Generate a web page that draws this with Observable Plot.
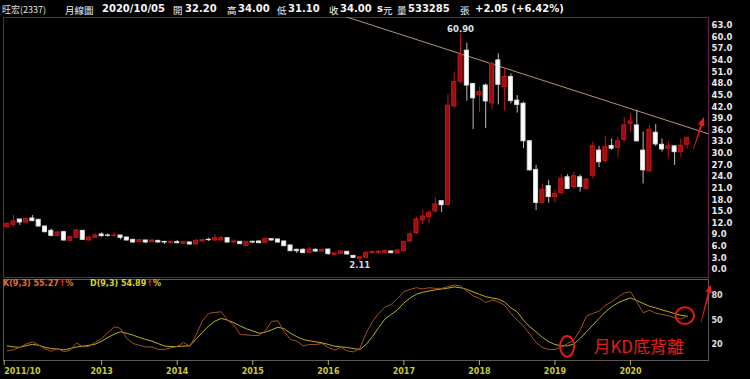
<!DOCTYPE html>
<html>
<head>
<meta charset="utf-8">
<script src="https://cdn.jsdelivr.net/npm/d3@7"></script>
<script src="https://cdn.jsdelivr.net/npm/@observablehq/plot@0.6"></script>
<style>
  html,body{margin:0;padding:0;background:#000;}
  #wrap{position:relative;width:750px;height:379px;background:#000;overflow:hidden;}
  #wrap > svg{position:absolute;left:0;}
  .hd{position:absolute;top:3px;line-height:12px;white-space:nowrap;color:#f4f4f4;}
  .num{font:bold 10px "DejaVu Sans",sans-serif;}
  .cjk{font:400 9.5px "Noto Sans CJK TC",sans-serif;}
  .cjk0{font:400 9px "Noto Sans CJK TC",sans-serif;color:#e6e6e6;}
  .lg{position:absolute;top:279px;font:bold 8px "DejaVu Sans",sans-serif;line-height:10px;white-space:nowrap;}
</style>
</head>
<body>
<div id="wrap"></div>
<script>
// ---------------- data ----------------
const headerParts = ["旺宏(2337)","月線圖","2020/10/05","開","32.20","高","34.00","低","31.10","收","34.00","s","元","量","533285","張","+2.05 (+6.42%)"];

// monthly candles, 2011/10 … 2020/10 (index 0 … 108)
const open = [
  10.93,11.53,12.91,12.14,13.17,12.82,11.10,9.98,8.69,9.64,
  7.40,8.18,9.98,7.49,8.18,9.04,8.78,8.61,8.78,8.26,
  7.66,7.06,7.49,7.06,7.40,7.14,6.80,7.06,6.63,6.97,
  6.46,7.23,7.66,7.49,7.49,8.09,6.97,7.14,6.11,7.14,
  7.23,6.89,7.83,7.75,7.23,6.20,5.08,5.08,4.30,5.08,
  4.65,5.16,3.79,4.05,4.56,3.53,2.75,3.01,4.30,4.30,
  4.30,4.65,4.13,4.73,7.23,9.38,12.74,13.51,14.98,17.64,
  16.7,42.1,48.5,56.5,47.9,45.0,47.5,42.9,54.0,47.1,
  49.7,43.6,42.8,33.1,25.7,17.2,21.5,18.7,19.7,23.8,
  21.3,23.8,20.8,24.2,30.7,28.0,31.9,31.4,33.5,37.6,
  37.2,30.7,25.4,35.3,32.2,31.2,31.8,30.3,32.2];
const close = [
  11.79,12.39,12.14,13.08,12.48,11.10,9.64,8.69,9.55,7.49,
  8.35,10.07,7.66,8.26,8.78,8.61,8.69,8.78,8.18,7.49,
  6.97,7.57,6.97,7.49,6.97,6.97,7.06,6.80,7.06,6.46,
  7.40,7.57,7.57,8.09,8.09,6.97,7.23,6.54,7.14,6.97,
  6.80,7.92,7.49,6.97,6.02,4.73,4.73,4.22,5.16,4.65,
  5.08,3.96,4.13,4.65,3.87,3.01,3.18,4.22,4.56,4.56,
  4.73,4.22,4.91,7.14,9.04,12.91,13.68,14.55,16.78,16.61,
  42.3,48.4,55.3,47.5,44.2,45.8,43.4,53.1,47.7,49.7,
  43.5,42.5,33.1,25.6,17.2,20.6,18.7,19.5,23.4,20.8,
  24.1,21.3,23.2,31.8,27.7,31.6,31.2,33.1,37.2,38.2,
  33.1,25.6,36.1,32.3,31.0,31.8,30.3,31.95,34.0];
const high = [
  12.05,13.94,12.91,13.25,13.94,12.91,11.19,10.41,9.90,9.90,
  8.61,10.24,10.07,8.69,9.21,9.47,9.21,9.47,8.78,8.35,
  7.75,7.75,7.49,7.66,7.49,7.14,7.14,7.49,7.06,7.06,
  7.83,7.66,8.09,8.95,8.52,8.18,7.66,7.23,7.23,7.32,
  7.32,8.09,7.83,7.83,7.32,6.28,5.25,5.34,5.68,5.34,
  5.25,5.16,4.30,4.91,4.65,3.61,3.27,4.65,4.73,4.91,
  5.08,4.73,5.08,7.32,9.73,13.51,15.41,15.23,18.50,17.64,
  45.2,50.9,60.9,58.4,48.0,47.2,47.9,53.5,55.7,51.8,
  50.5,44.9,43.2,33.3,26.9,22.1,23.0,20.6,24.5,24.5,
  25.1,24.4,23.5,32.9,31.8,34.3,33.7,34.2,39.2,40.2,
  41.1,35.5,37.2,37.4,33.7,33.1,31.9,33.7,34.0];
const low = [
  10.67,10.93,11.36,11.62,12.48,10.93,9.47,8.43,8.35,7.32,
  7.14,8.09,7.49,7.32,8.09,8.35,8.35,8.52,7.66,7.40,
  6.80,6.97,6.63,6.89,6.89,6.46,6.63,6.63,6.54,6.28,
  6.37,7.14,7.23,7.32,7.40,6.89,6.63,6.46,6.02,6.63,
  6.80,6.80,7.32,6.80,5.94,4.65,4.13,4.13,4.13,4.39,
  4.56,3.70,3.61,3.87,3.79,2.84,2.11,2.84,4.05,3.87,
  4.13,4.05,4.05,4.65,7.06,9.04,11.62,11.79,14.63,14.72,
  16.3,41.7,47.9,43.5,36.1,40.5,36.4,41.2,42.5,40.9,
  42.8,40.4,31.2,25.4,15.2,17.0,17.1,17.1,19.4,20.6,
  20.8,20.0,20.6,23.4,26.3,27.7,30.7,28.8,32.9,35.5,
  32.9,22.1,25.0,31.8,30.3,28.8,26.9,28.8,31.1];

// KD(9,3)
const kValues = [
  12.7,14,17,21,23.7,20,15,12.3,15.6,11.5,
  13.5,22.5,17.5,18.4,23,27.7,35,42,40,27.7,
  21.6,19.5,17.5,17.5,14.3,14.3,16.4,18,22.9,18.4,
  31.8,49.3,58.2,59.5,60.2,50,44,32.6,32,31.4,
  31.4,37.1,48.5,49.3,35.9,26.5,24.5,18.8,20.4,20.4,
  21.6,16.8,13.5,16.8,12.7,11.5,15.6,34.1,48.3,58.2,
  66,69.3,76.6,84.7,87.5,89.5,88,89.5,88.7,88.7,
  90.8,92.8,91.6,85.5,79.4,76.6,71.7,74.5,72.5,68.4,
  58.2,50.1,43,33,23,16.8,14.3,14.3,17.2,21.5,
  26,38,55,58.2,61,68,72.5,78,83,84.7,
  72.5,59,62.2,58.5,57,55.5,53,51.3,55.27];
const dValues = [
  18.8,17.5,17,19,20.5,19.5,17,15.6,15,13.9,
  15.5,17.5,18.4,19.5,20.9,24.5,29,33,35.9,34,
  31.8,29,26.5,24.5,21.5,18.4,18,18,18.5,18.8,
  27,35,43,49,52.1,50,46.9,43,39.5,37,
  34.1,35.5,38.2,41.5,39.5,34.1,30,26.5,25,23.7,
  22.5,20.5,18.4,17.5,16.8,15.5,14.3,20.4,30,41,
  51.5,57,62.6,71,77,81.6,84,85.5,86.9,88,
  89,90.5,89.5,87.5,84.5,81.5,78.6,77,75.7,72,
  65,60.2,50,42,35.9,29,24,20.4,19,18.8,
  21,28,35.9,44,52.1,60,66.3,71,74.5,77,
  74,70.4,67,65,62.5,60.5,58,56,54.89];

const priceTicks = [0,3,6,9,12,15,18,21,24,27,30,33,36,39,42,45,48,51,54,57,60,63];
const kdTicks = [20,50,80];
const xTickIdx = [0,15,27,39,51,63,75,87,99];
const xTickLabels = ["2011/10","2013","2014","2015","2016","2017","2018","2019","2020"];

// annotations (month index / value)
const trendline = [{n:53, p:65.67},{n:112, p:34.7}];
const arrowTop = [{n:109.05, v:30.9},{n:110.75, v:39.3}];
const arrowBottom = [{n:110.28, v:46.8},{n:111.82, v:92.6}];
const rings = [{n:89, v:17.6},{n:107.7, v:55}];
const noteText = [{text:"月KD底背離", n:93.1, v:17.3}];

// ---------------- layout ----------------
const headerX = [2,65,102,173,185,227,238,277,288,329,340,377,383,397,408,460,475];
const ringSize = [[7,10.3],[9.3,8.3]];

const wrap = document.getElementById("wrap");
headerParts.forEach((t, i) => {
  const s = document.createElement("span");
  s.className = "hd " + (i === 0 ? "cjk0" : (/^[\d.+\-\/ (%)s]+$/.test(t) ? "num" : "cjk"));
  s.style.left = headerX[i] + "px";
  s.textContent = t;
  wrap.appendChild(s);
});

const candles = open.map((o, i) => ({n: i, o, h: high[i], l: low[i], c: close[i]}));
const ups = candles.filter(d => d.c >= d.o);
const downs = candles.filter(d => d.c < d.o);
const peak = candles.reduce((a, b) => (b.h > a.h ? b : a));
const trough = candles.reduce((a, b) => (b.l < a.l ? b : a));
const kd = kValues.map((k, i) => ({n: i, k, d: dValues[i]}));
const half = 0.32;

function wedge(pts, color, headLen, headHalf) {
  return (index, scales) => {
    const x1 = scales.x(pts[0].n), y1 = scales.y(pts[0].v);
    const x2 = scales.x(pts[1].n), y2 = scales.y(pts[1].v);
    const L = Math.hypot(x2 - x1, y2 - y1), ux = (x2 - x1) / L, uy = (y2 - y1) / L;
    const vx = -uy, vy = ux;
    const bx = x2 - ux * headLen, by = y2 - uy * headLen;
    const P = [
      [x1 + vx * 0.3, y1 + vy * 0.3], [bx + vx * 1.0, by + vy * 1.0], [bx + vx * headHalf, by + vy * headHalf],
      [x2, y2],
      [bx - vx * headHalf, by - vy * headHalf], [bx - vx * 1.0, by - vy * 1.0], [x1 - vx * 0.3, y1 - vy * 0.3]
    ];
    const g = d3.create("svg:g");
    g.append("path").attr("d", "M" + P.map(p => p.join(",")).join("L") + "Z").attr("fill", color);
    return g.node();
  };
}

const baseStyle = {background: "transparent", color: "#e6e6e6", fontFamily: "DejaVu Sans", overflow: "visible"};

const topPlot = Plot.plot({
  width: 750, height: 278, marginTop: 17, marginBottom: 1, marginLeft: 3, marginRight: 42,
  style: baseStyle,
  x: {type: "linear", domain: [0, 108], range: [6.7, 686.7], axis: null},
  y: {domain: [0, 63], range: [269, 25], axis: null},
  marks: [
    Plot.frame({stroke: "#6e2048"}),
    Plot.line(trendline, {x: "n", y: "p", stroke: "#b39474", strokeWidth: 1, clip: true}),
    Plot.ruleX(downs, {x: "n", y1: "l", y2: "h", stroke: "#bdbdbd"}),
    Plot.ruleX(ups, {x: "n", y1: "l", y2: "h", stroke: "#bf1414"}),
    Plot.rect(downs, {x1: d => d.n - half, x2: d => d.n + half, y1: "o", y2: "c", fill: "#ffffff", stroke: "#dedede"}),
    Plot.rect(ups, {x1: d => d.n - half, x2: d => d.n + half, y1: "o", y2: "c", fill: "#a00c0c", stroke: "#c41616"}),
    Plot.text([peak], {x: "n", y: "h", text: d => d.h.toFixed(2), dy: -4, fontSize: 8.5, fontWeight: "bold", fill: "#dde3ea"}),
    Plot.text([trough], {x: "n", y: "l", text: d => d.l.toFixed(2), dy: 4, fontSize: 8.5, fontWeight: "bold", fill: "#cfd6e0"}),
    Plot.axisY(priceTicks, {anchor: "right", tickSize: 0, tickPadding: 3, tickFormat: d => d.toFixed(1), fontSize: 8.5, fontWeight: "bold", fill: "#e8e8e8", label: null}),
    wedge(arrowTop, "#e81c1c", 9, 3.3)
  ]
});
topPlot.style.top = "0px";
wrap.appendChild(topPlot);

const axisText = {anchor: "bottom", tickSize: 5, tickPadding: 3, stroke: "#b4b43a", fill: "#c9c93a", fontSize: 8, fontWeight: "bold", label: null};

const bottomPlot = Plot.plot({
  width: 750, height: 101, marginTop: 1, marginBottom: 19, marginLeft: 3, marginRight: 42,
  style: baseStyle,
  x: {type: "linear", domain: [0, 108], range: [6.7, 686.7], axis: null},
  y: {domain: [0, 100], range: [82.8, 0.6], axis: null},
  marks: [
    Plot.frame({stroke: "#5a5a5a"}),
    Plot.line(kd, {x: "n", y: "d", stroke: "#b8b41c", strokeWidth: 1}),
    Plot.line(kd, {x: "n", y: "k", stroke: "#a8501f", strokeWidth: 1}),
    Plot.axisY(kdTicks, {anchor: "right", tickSize: 0, tickPadding: 3, fontSize: 8, fontWeight: "bold", fill: "#e0e0e0", label: null}),
    Plot.axisX([xTickIdx[0]], {...axisText, textAnchor: "start", dx: -3, tickFormat: i => xTickLabels[xTickIdx.indexOf(i)]}),
    Plot.axisX(xTickIdx.slice(1), {...axisText, tickFormat: i => xTickLabels[xTickIdx.indexOf(i)]}),
    (index, scales) => {
      const g = d3.create("svg:g");
      rings.forEach((d, i) => g.append("ellipse")
        .attr("cx", scales.x(d.n)).attr("cy", scales.y(d.v))
        .attr("rx", ringSize[i][0]).attr("ry", ringSize[i][1])
        .attr("fill", "none").attr("stroke", "#e41a1a").attr("stroke-width", 2));
      return g.node();
    },
    Plot.text(noteText, {x: "n", y: "v", text: "text", textAnchor: "start", fontSize: 17, fill: "#e31b1b", fontFamily: "Noto Sans CJK TC"}),
    wedge(arrowBottom, "#e81c1c", 8, 3.3)
  ]
});
bottomPlot.style.top = "278px";
wrap.appendChild(bottomPlot);

// legend of the KD panel
const legendItems = [
  {name: "K(9,3)", value: kValues[kValues.length - 1], color: "#e4702c", left: 3},
  {name: "D(9,3)", value: dValues[dValues.length - 1], color: "#d8d22a", left: 90}
];
legendItems.forEach(it => {
  const s = document.createElement("div");
  s.className = "lg";
  s.style.left = it.left + "px";
  s.innerHTML = `<span style="color:${it.color}">${it.name} ${it.value.toFixed(2)}</span><span style="color:#ff1e1e">↑</span><span style="color:${it.color}">%</span>`;
  wrap.appendChild(s);
});
</script>
</body>
</html>
